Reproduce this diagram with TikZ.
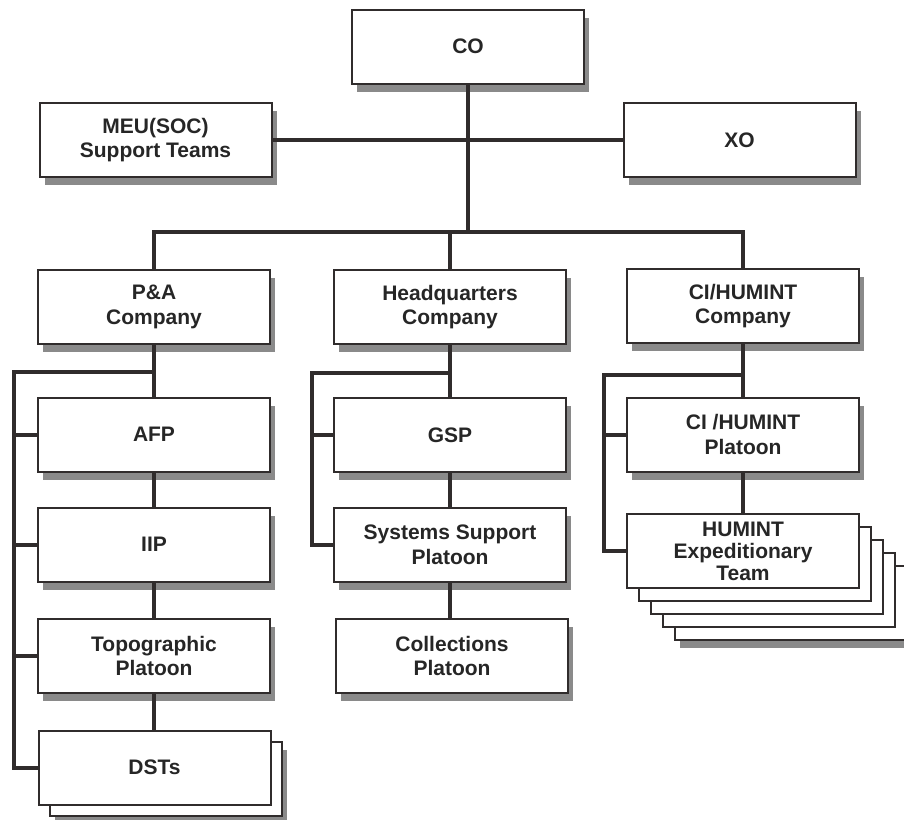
\documentclass[tikz,border=0pt]{standalone}
\usepackage{fontspec}
\setmainfont{Liberation Sans}
\begin{document}
\begin{tikzpicture}[x=1pt,y=-1pt,
  line/.style={draw=linec, line width=4pt},
  orgbox/.style={draw=linec, line width=2pt, fill=white, minimum width=232pt, minimum height=74pt,
    align=center, inner sep=2pt, text=textc, font=\fontsize{21}{24.5}\selectfont\bfseries},
  shadowed/.style={preaction={fill=shadc, transform canvas={xshift=5pt,yshift=-8pt}}}
]
\definecolor{linec}{HTML}{302C2C}
\definecolor{textc}{HTML}{262626}
\definecolor{shadc}{HTML}{8A8A8A}
\useasboundingbox (0,0) rectangle (904,819);

% top level
\node[orgbox,shadowed] (CO) at (468,46.5) {CO};
\node[orgbox,shadowed] (MEU) at (155.5,140) {MEU(SOC)\\Support Teams};
\node[orgbox,shadowed] (XO) at (739.5,140) {XO};

% companies
\node[orgbox,shadowed] (PA) at (154,307) {P\&A\\Company};
\node[orgbox,shadowed] (HQ) at (450,307) {Headquarters\\Company};
\node[orgbox,shadowed] (CI) at (743,306) {CI/HUMINT\\Company};

% P&A column
\node[orgbox,shadowed] (AFP) at (154,434.5) {AFP};
\node[orgbox,shadowed] (IIP) at (154,544.5) {IIP};
\node[orgbox,shadowed] (TOPO) at (154,656) {Topographic\\Platoon};
\node[orgbox,shadowed] (DSTb) at (165.5,778.5) {};
\node[orgbox] (DST) at (154.5,767.5) {DSTs};

% HQ column
\node[orgbox,shadowed] (GSP) at (450,435) {GSP};
\node[orgbox,shadowed] (SSP) at (450,545) {Systems Support\\Platoon};
\node[orgbox,shadowed] (COLL) at (452,656) {Collections\\Platoon};

% CI column
\node[orgbox,shadowed] (CIP) at (743,434.5) {CI /HUMINT\\Platoon};
\node[orgbox,shadowed] (HET4) at (791,603) {};
\node[orgbox] (HET3) at (779,590) {};
\node[orgbox] (HET2) at (767,577) {};
\node[orgbox] (HET1) at (755,564) {};
\node[orgbox, font=\fontsize{21}{22}\selectfont\bfseries] (HET) at (743,551) {HUMINT\\Expeditionary\\Team};

% connectors, top
\coordinate (l2) at (468,232);
\draw[line] (MEU.east) -- (XO.west);
\draw[line] (CO.south) -- (l2);
\draw[line] (PA.north) |- (l2) -| (CI.north);
\draw[line] (HQ.north) -- (HQ.north |- l2);

% P&A bracket
\coordinate (pab) at (14,372);
\draw[line] (PA.south) -- (AFP.north);
\draw[line] (AFP.south) -- (IIP.north);
\draw[line] (IIP.south) -- (TOPO.north);
\draw[line] (TOPO.south) -- (TOPO.south |- DST.north);
\draw[line] (PA.south |- pab) -- (pab) |- (DST.west);
\draw[line] (pab |- AFP.west) -- (AFP.west);
\draw[line] (pab |- IIP.west) -- (IIP.west);
\draw[line] (pab |- TOPO.west) -- (TOPO.west);

% HQ bracket
\coordinate (hqb) at (312,373);
\draw[line] (HQ.south) -- (GSP.north);
\draw[line] (GSP.south) -- (SSP.north);
\draw[line] (SSP.south) -- (SSP.south |- COLL.north);
\draw[line] (HQ.south |- hqb) -- (hqb) |- (SSP.west);
\draw[line] (hqb |- GSP.west) -- (GSP.west);

% CI bracket
\coordinate (cib) at (604,375);
\draw[line] (CI.south) -- (CIP.north);
\draw[line] (CIP.south) -- (HET.north);
\draw[line] (CI.south |- cib) -- (cib) |- (HET.west);
\draw[line] (cib |- CIP.west) -- (CIP.west);
\end{tikzpicture}
\end{document}
